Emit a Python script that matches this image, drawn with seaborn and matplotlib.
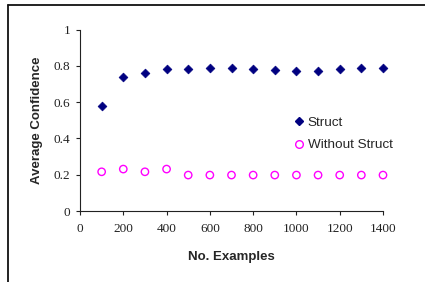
import matplotlib
matplotlib.use("Agg")
import matplotlib.pyplot as plt
from matplotlib.lines import Line2D
import seaborn as sns
import pandas as pd

examples = [100, 200, 300, 400, 500, 600, 700, 800, 900, 1000, 1100, 1200, 1300, 1400]
struct = [0.579, 0.736, 0.762, 0.782, 0.782, 0.789, 0.789, 0.782, 0.777, 0.769, 0.769, 0.782, 0.789, 0.789]
without_struct = [0.216, 0.231, 0.216, 0.231, 0.198, 0.198, 0.198, 0.198, 0.198, 0.198, 0.198, 0.198, 0.198, 0.198]
series_names = ["Struct", "Without Struct"]
x_ticks = [0, 200, 400, 600, 800, 1000, 1200, 1400]
y_ticks = [0, 0.2, 0.4, 0.6, 0.8, 1]
y_tick_labels = ["0", "0.2", "0.4", "0.6", "0.8", "1"]

df = pd.DataFrame({
    "x": examples * 2,
    "y": struct + without_struct,
    "series": [series_names[0]] * len(examples) + [series_names[1]] * len(examples),
})

sns.set_style("white")
W, H = 425, 282
fig = plt.figure(figsize=(W / 100, H / 100), dpi=100)
ax = fig.add_axes([80 / W, (H - 211) / H, 303 / W, 181.5 / H])

d1 = df[df.series == series_names[0]]
d2 = df[df.series == series_names[1]]
sns.scatterplot(data=d1, x="x", y="y", ax=ax, marker="D", s=20, color="#000080",
                edgecolor="#000080", linewidth=0.5, clip_on=False, legend=False, zorder=3)
sns.scatterplot(data=d2, x="x", y="y", ax=ax, marker="o", s=28, facecolor="none",
                edgecolor="#FF00FF", linewidth=1.0, clip_on=False, legend=False, zorder=3)

ax.set_xlim(0, 1400)
ax.set_ylim(0, 1)
ax.set_xticks(x_ticks)
ax.set_xticklabels([str(t) for t in x_ticks], family="Liberation Serif", fontsize=9.5, color="#222222")
ax.set_yticks(y_ticks)
ax.set_yticklabels(y_tick_labels, family="Liberation Serif", fontsize=9.5, color="#222222")
ax.tick_params(axis="x", direction="out", length=3, width=0.8, color="#222222", pad=6, bottom=True)
ax.tick_params(axis="y", direction="out", length=3, width=0.8, color="#222222", pad=4, left=True)
for side in ["top", "right"]:
    ax.spines[side].set_visible(False)
for side in ["left", "bottom"]:
    ax.spines[side].set_color("#222222")
    ax.spines[side].set_linewidth(0.8)

ax.set_xlabel("No. Examples", family="Liberation Sans", fontsize=9.5, fontweight="bold", labelpad=11)
ax.set_ylabel("Average Confidence", family="Liberation Sans", fontsize=9.5, fontweight="bold", labelpad=8)

handles = [
    Line2D([], [], linestyle="none", marker="D", markersize=4.5, color="#000080"),
    Line2D([], [], linestyle="none", marker="o", markersize=5.5, markerfacecolor="none",
           markeredgecolor="#FF00FF", markeredgewidth=1.0),
]
leg = ax.legend(handles, series_names, loc="upper left", bbox_to_anchor=(207 / 303, (211 - 111) / 181.5),
                frameon=False, handletextpad=0.15, handlelength=1.0, labelspacing=0.75,
                prop={"family": "Liberation Sans", "size": 9.7}, borderaxespad=0)

# outer frame
fig.add_artist(Line2D([8 / W, 1], [1 - 5 / H, 1 - 5 / H], transform=fig.transFigure, color="#111111", lw=1.3))
fig.add_artist(Line2D([8 / W, 8 / W], [0, 1 - 5 / H], transform=fig.transFigure, color="#111111", lw=1.3))

fig.savefig("out.png", dpi=100)
